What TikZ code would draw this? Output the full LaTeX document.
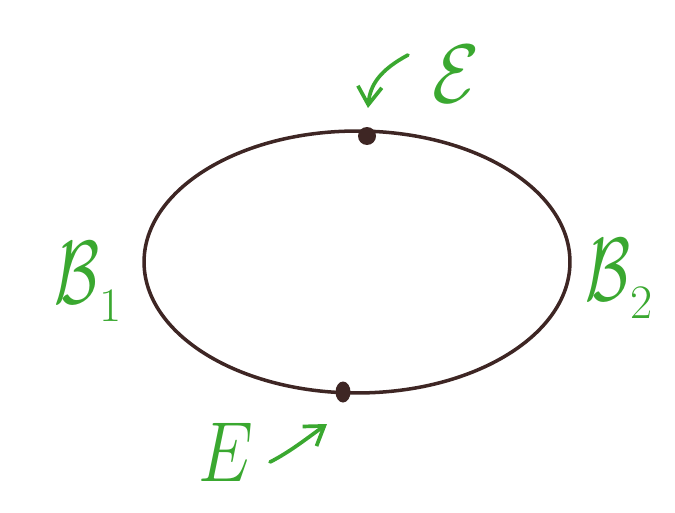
\documentclass[tikz,border=0pt]{standalone}
\usepackage{amsmath}
\usepackage{graphicx}
\usepackage{tikz}
\usetikzlibrary{shapes.geometric, arrows.meta, positioning}
\definecolor{cInk}{RGB}{62,38,36}
\definecolor{cPen}{RGB}{58,168,48}
\newcommand{\bigsym}[3]{\scalebox{#1}[#2]{$#3$}}
\newcommand{\lowidx}[1]{\raisebox{-0.35cm}{\scalebox{1.1}{$#1$}}}
\tikzset{
    loopline/.style={ellipse, draw=cInk, line width=2pt, minimum width=8.52cm, minimum height=5.24cm, inner sep=0pt},
    blob/.style   ={circle, fill=cInk, minimum size=0.36cm, inner sep=0pt},
    lbl/.style    ={text=cPen, inner sep=0pt, font=\Huge},
    pointer/.style={-{Straight Barb[length=3.6mm, width=4.8mm]}, draw=cPen, line width=2.1pt, line cap=round},
}
\begin{document}
\begin{tikzpicture}[x=0.02cm, y=-0.02cm]
                \useasboundingbox (0,0) rectangle (675,513);
                \node[loopline] (loop) at (357,262) {};
                \node[blob] (top) at (367,136) {};
                \node[blob, minimum width=0.3cm, minimum height=0.42cm, ellipse] (bot) at (343,392) {};
                \node[lbl] (eTop) at (456,74) {\bigsym{1.75}{1.9}{\mathcal{E}}};
                \node[lbl] (eBot) at (226,452) {\bigsym{1.6}{1.95}{E}};
                \node[lbl] (bOne) at (88,282) {\bigsym{1.5}{2.05}{\mathcal{B}}\lowidx{1}};
                \node[lbl] (bTwo) at (619,279) {\bigsym{1.5}{2.05}{\mathcal{B}}\lowidx{2}};
                \coordinate (tStart) at (408,55);
                \coordinate (tEnd) at (368,108);
                \coordinate (bStart) at (270,462);
                \coordinate (bEnd) at (327,424);
                \draw[pointer](tStart) .. controls (380,70) and (370,85) .. (tEnd);
                \draw[pointer](bStart) .. controls (290,452) and (310,436) .. (bEnd);
            \end{tikzpicture}
\end{document}
